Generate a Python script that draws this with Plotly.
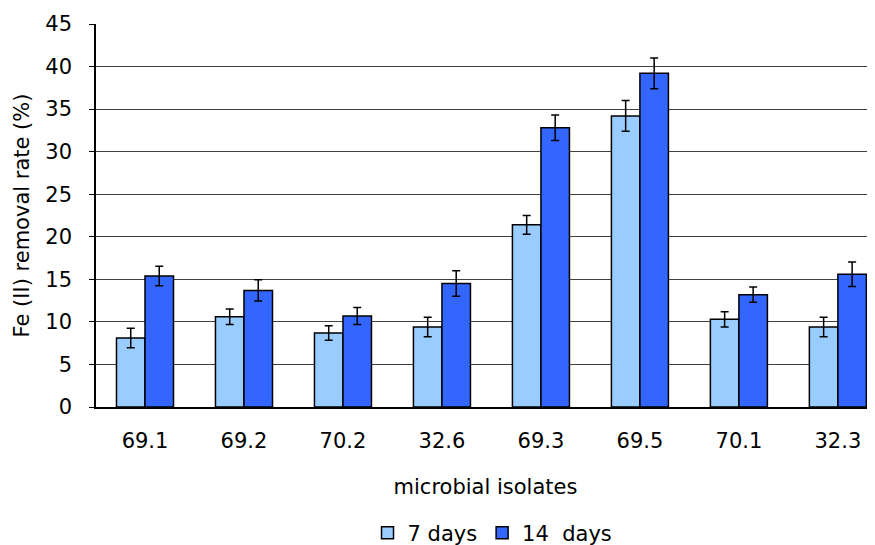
import plotly.graph_objects as go

categories = ["69.1", "69.2", "70.2", "32.6", "69.3", "69.5", "70.1", "32.3"]
days7 = [8.1, 10.6, 8.7, 9.4, 21.4, 34.2, 10.3, 9.4]
days7_err = [1.15, 0.9, 0.85, 1.15, 1.1, 1.8, 0.9, 1.15]
days14 = [15.4, 13.7, 10.7, 14.5, 32.8, 39.2, 13.2, 15.6]
days14_err = [1.15, 1.25, 1.0, 1.5, 1.5, 1.8, 0.9, 1.45]
yticks = [0, 5, 10, 15, 20, 25, 30, 35, 40, 45]

font = "DejaVu Sans, Liberation Sans, Arial, sans-serif"
fs = 21

fig = go.Figure()
fig.add_trace(go.Bar(
    name="7 days", x=categories, y=days7,
    marker=dict(color="#99CCFF", line=dict(color="#000000", width=1.5)),
    error_y=dict(type="data", array=days7_err, color="#000000", thickness=1.5, width=4),
))
fig.add_trace(go.Bar(
    name="14\u00a0 days", x=categories, y=days14,
    marker=dict(color="#3366FF", line=dict(color="#000000", width=1.5)),
    error_y=dict(type="data", array=days14_err, color="#000000", thickness=1.5, width=4),
))

fig.update_layout(
    width=867, height=537,
    margin=dict(l=88, r=0, t=16, b=138, autoexpand=False),
    paper_bgcolor="white", plot_bgcolor="white",
    barmode="group", bargap=0.424, bargroupgap=0,
    font=dict(family=font, size=fs, color="#000000"),
    showlegend=True,
    legend=dict(orientation="h", x=0.509, xanchor="center",
                yref="container", y=0.0223, yanchor="middle",
                font=dict(size=fs), itemwidth=30, tracegroupgap=0,
                bgcolor="rgba(0,0,0,0)"),
    xaxis=dict(
        range=[-0.495, 7.375], automargin=False,
        showline=True, linecolor="#000000", linewidth=1.5,
        showgrid=False, ticks="", ticklabelstandoff=14,
        title=dict(text="microbial isolates", standoff=27, font=dict(size=fs)),
        tickfont=dict(size=fs),
    ),
    yaxis=dict(
        range=[0, 45], tickvals=yticks, automargin=False,
        showline=True, linecolor="#000000", linewidth=1.5,
        showgrid=True, gridcolor="#404040", gridwidth=1,
        ticks="outside", ticklen=5, tickcolor="#000000",
        ticklabelstandoff=13,
        tickfont=dict(size=fs),
        title=dict(text="Fe (II) removal rate (%)", standoff=10, font=dict(size=fs)),
        zeroline=False,
    ),
)

fig.write_html("out.html")
